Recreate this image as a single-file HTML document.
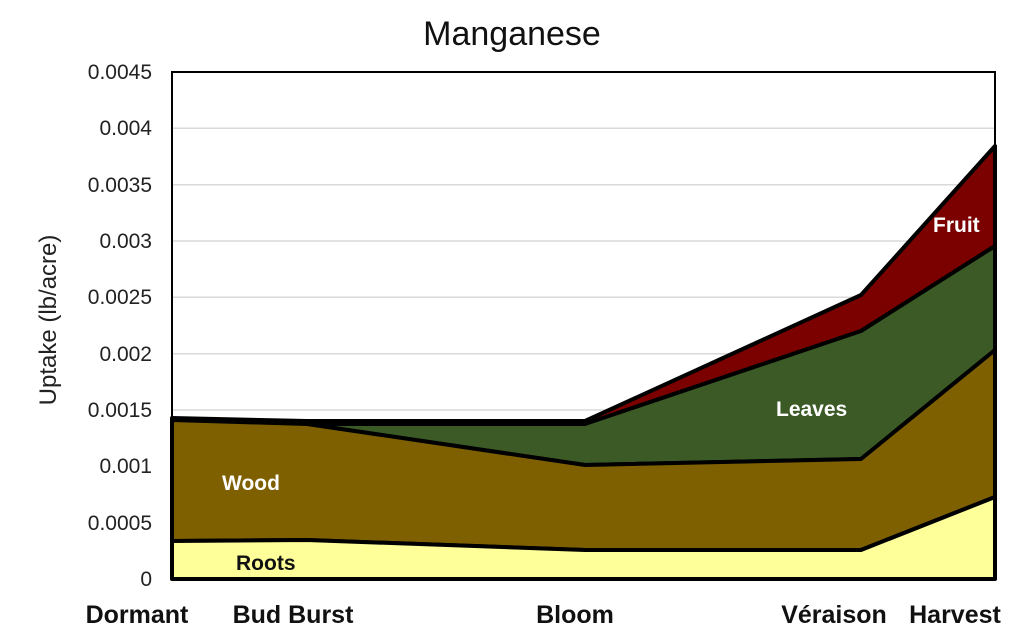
<!DOCTYPE html>
<html><head><meta charset="utf-8"><style>
body{margin:0;background:#fff;}
text{font-family:"Liberation Sans",Arial,sans-serif;}
</style></head><body>
<svg width="1024" height="639" viewBox="0 0 1024 639" xmlns="http://www.w3.org/2000/svg">
<rect width="1024" height="639" fill="#fff"/>
<text x="512" y="45" font-size="34" text-anchor="middle" fill="#111">Manganese</text>
<g stroke="#d9d9d9" stroke-width="1.5">
<line x1="172" x2="995" y1="522.7" y2="522.7"/>
<line x1="172" x2="995" y1="466.3" y2="466.3"/>
<line x1="172" x2="995" y1="410" y2="410"/>
<line x1="172" x2="995" y1="353.7" y2="353.7"/>
<line x1="172" x2="995" y1="297.3" y2="297.3"/>
<line x1="172" x2="995" y1="241" y2="241"/>
<line x1="172" x2="995" y1="184.7" y2="184.7"/>
<line x1="172" x2="995" y1="128.3" y2="128.3"/>
</g>
<g stroke="#000" stroke-width="4" stroke-linejoin="round">
<polygon fill="#7b0000" points="172,418 307,421 585,421 861,295 995,146 995,246 861,331 585,424 307,424 172,420"/>
<polygon fill="#3b5a26" points="172,420 307,424 585,424 861,331 995,246 995,350 861,459 585,465 307,424 172,420"/>
<polygon fill="#7f6000" points="172,420 307,424 585,465 861,459 995,350 995,497 861,550 585,550 307,540 172,541"/>
<polygon fill="#ffff99" points="172,541 307,540 585,550 861,550 995,497 995,579 172,579"/>
</g>
<rect x="172" y="72" width="823" height="507" fill="none" stroke="#000" stroke-width="2"/>
<g font-size="21" font-weight="bold">
<text x="222" y="490" fill="#fff">Wood</text>
<text x="236" y="570" fill="#111">Roots</text>
<text x="776" y="416" fill="#fff">Leaves</text>
<text x="933" y="232" fill="#fff">Fruit</text>
</g>
<g font-size="21" text-anchor="end" fill="#222">
<text x="152" y="586">0</text>
<text x="152" y="530">0.0005</text>
<text x="152" y="473">0.001</text>
<text x="152" y="417">0.0015</text>
<text x="152" y="361">0.002</text>
<text x="152" y="304">0.0025</text>
<text x="152" y="248">0.003</text>
<text x="152" y="192">0.0035</text>
<text x="152" y="135">0.004</text>
<text x="152" y="79">0.0045</text>
</g>
<text transform="translate(56,320) rotate(-90)" font-size="24" text-anchor="middle" fill="#222">Uptake (lb/acre)</text>
<g font-size="25" font-weight="bold" fill="#111" text-anchor="middle">
<text x="137" y="623">Dormant</text>
<text x="293" y="623">Bud Burst</text>
<text x="575" y="623">Bloom</text>
<text x="834" y="623">Véraison</text>
<text x="955" y="623">Harvest</text>
</g>
</svg>
</body></html>
